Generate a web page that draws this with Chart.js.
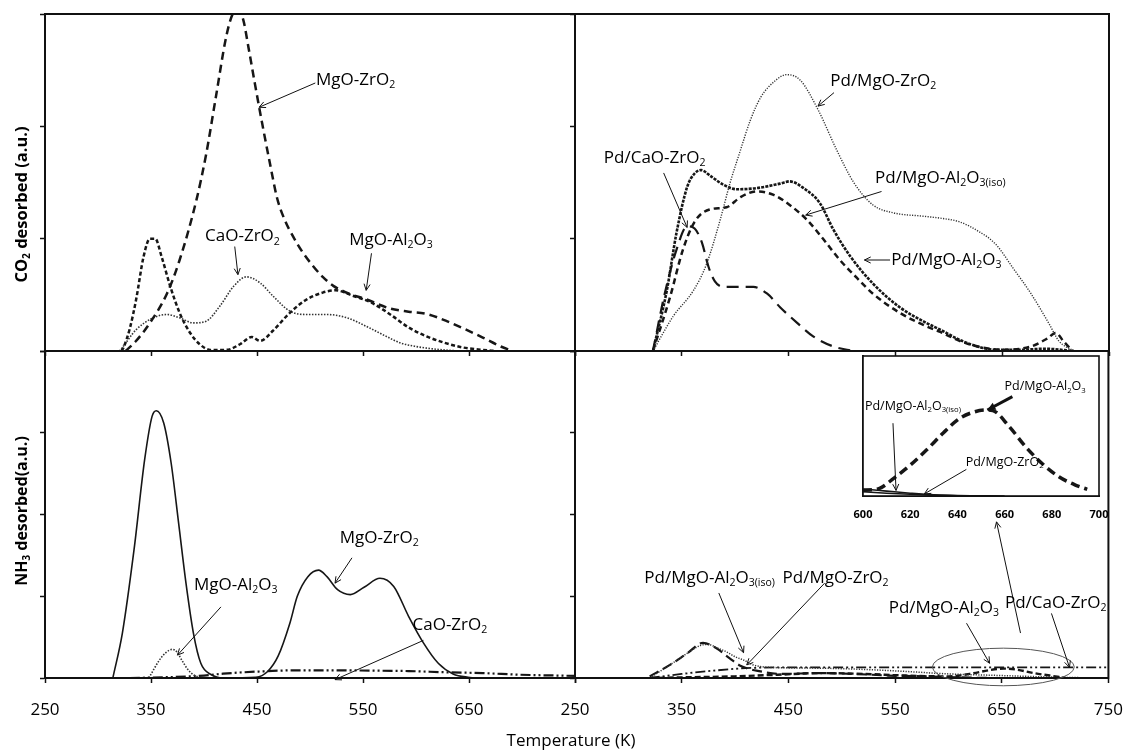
<!DOCTYPE html>
<html lang="en">
<head>
<meta charset="UTF-8">
<title>TPD CO2 / NH3</title>
<script src="https://cdn.jsdelivr.net/npm/chart.js"></script>
<style>
    body { margin: 0; background: #fff; }
    #fig { position: relative; width: 1126px; height: 750px; overflow: hidden; }
    #fig canvas { position: absolute; }
    #xtitle {
        position: absolute; left: 471px; top: 730px; width: 200px;
        text-align: center; font: 17px "Open Sans", sans-serif; line-height: 20px; color: #000;
    }
</style>
</head>
<body>
<div id="fig">
    <canvas id="tl" width="580" height="358" style="left:0;top:0"></canvas>
    <canvas id="tr" width="566" height="358" style="left:560px;top:0"></canvas>
    <canvas id="bl" width="610" height="404" style="left:0;top:346px"></canvas>
    <canvas id="br" width="610" height="404" style="left:530px;top:346px"></canvas>
    <canvas id="inset" width="306" height="180" style="left:820px;top:350px"></canvas>
    <div id="xtitle">Temperature (K)</div>
</div>
<script>
// temperature (K), signal (a.u.)
// CO2 TPD, bare supports
const co2MgOZrO2 = [[326,0],[335,0.08],[349,0.25],[365,0.51],[377,0.81],[393,1.35],[402,1.75],[411,2.25],[421,2.80],[427,3.0],[432,3.04],[437,2.95],[442,2.70],[448,2.38],[455,2.02],[462,1.68],[469,1.36],[476,1.17],[484,1.02],[493,0.88],[503,0.755],[512,0.66],[522,0.58],[537,0.51],[553,0.46],[575,0.38],[593,0.35],[610,0.33],[628,0.27],[645,0.20],[663,0.12],[680,0.04],[691,0]];
const co2MgOAl2O3 = [[322,0],[324,0.03],[330,0.2],[336,0.46],[343,0.84],[349,1.0],[354,1.0],[360,0.84],[368,0.58],[377,0.34],[387,0.16],[396,0.06],[406,0.01],[421,0.01],[434,0.06],[445,0.125],[453,0.09],[465,0.18],[481,0.34],[497,0.46],[512,0.52],[524,0.54],[541,0.49],[558,0.43],[575,0.33],[593,0.21],[610,0.13],[628,0.07],[645,0.03],[663,0.01],[675,0]];
const co2CaOZrO2 = [[320,0],[322,0.02],[336,0.19],[352,0.295],[365,0.325],[377,0.295],[390,0.25],[402,0.265],[415,0.40],[428,0.576],[440,0.66],[453,0.606],[465,0.49],[481,0.355],[497,0.325],[516,0.325],[535,0.295],[553,0.22],[572,0.13],[585,0.073],[600,0.04],[620,0.015],[640,0]];

// CO2 TPD, Pd catalysts
const co2PdMgOZrO2 = [[323,0],[342,0.31],[361,0.54],[373,0.77],[386,1.17],[395,1.49],[405,1.79],[414,2.05],[424,2.26],[438,2.41],[448,2.46],[461,2.41],[478,2.14],[495,1.79],[511,1.50],[529,1.30],[548,1.23],[576,1.20],[594,1.18],[610,1.15],[627,1.07],[644,0.95],[660,0.74],[677,0.51],[694,0.24],[703,0.09],[717,0]];
const co2PdMgOAl2O3 = [[323,0],[336,0.54],[345,1.05],[355,1.46],[362,1.58],[368,1.61],[378,1.55],[389,1.48],[401,1.44],[420,1.45],[442,1.49],[451,1.51],[464,1.45],[479,1.32],[492,1.08],[508,0.84],[529,0.60],[554,0.39],[579,0.25],[592,0.19],[610,0.10],[627,0.04],[644,0.01],[665,0.01],[690,0.02],[717,0]];
const co2PdMgOAl2O3iso = [[323,0],[339,0.48],[351,0.90],[362,1.15],[376,1.26],[392,1.28],[405,1.37],[420,1.42],[436,1.39],[451,1.30],[467,1.17],[483,0.99],[498,0.81],[514,0.65],[529,0.51],[554,0.34],[579,0.22],[592,0.17],[610,0.09],[627,0.04],[650,0.01],[677,0.04],[692,0.11],[700,0.16],[708,0.08],[716,0]];
const co2PdCaOZrO2 = [[323,0],[334,0.51],[345,0.90],[355,1.11],[362,1.09],[369,0.96],[375,0.75],[381,0.62],[389,0.57],[405,0.57],[417,0.57],[430,0.51],[442,0.39],[458,0.25],[473,0.13],[492,0.04],[511,0]];

// NH3 TPD, bare supports
const nh3MgOZrO2 = [[314,0],[323,0.55],[334,1.57],[344,2.67],[351,3.2],[355,3.27],[362,3.12],[369,2.63],[376,1.9],[383,1.16],[390,0.55],[397,0.18],[407,0.04],[418,0],[449,0.01],[460,0.08],[470,0.27],[481,0.67],[488,1.0],[498,1.24],[508,1.32],[516,1.24],[526,1.08],[538,1.02],[551,1.11],[566,1.22],[579,1.12],[593,0.755],[607,0.43],[621,0.18],[635,0.05],[649,0.01],[663,0]];
const nh3MgOAl2O3 = [[348,0],[358,0.22],[364,0.31],[370,0.35],[375,0.31],[379,0.22],[385,0.1],[390,0.04],[397,0]];
const nh3CaOZrO2 = [[330,0],[365,0.01],[400,0.03],[418,0.053],[453,0.08],[488,0.094],[523,0.094],[558,0.09],[593,0.085],[628,0.07],[663,0.06],[698,0.04],[733,0.03],[750,0.025]];

// NH3 TPD, Pd catalysts
const nh3PdMgOZrO2 = [[320,0],[339,0.16],[355,0.30],[368,0.40],[375,0.41],[383,0.37],[392,0.32],[400,0.26],[408,0.22],[417,0.16],[433,0.13],[480,0.12],[530,0.10],[560,0.08],[600,0.05],[650,0.03],[700,0.01],[745,0]];
const nh3PdMgOAl2O3iso = [[320,0.02],[339,0.16],[355,0.30],[370,0.43],[383,0.36],[395,0.24],[405,0.15],[411,0.12],[420,0.09],[444,0.05],[478,0.06],[511,0.05],[544,0.03],[577,0.02],[644,0],[700,0]];
const nh3PdMgOAl2O3 = [[320,0],[360,0.01],[400,0.02],[440,0.04],[480,0.06],[520,0.05],[560,0.03],[600,0.02],[620,0.05],[640,0.10],[652,0.115],[665,0.10],[680,0.06],[695,0.03],[710,0]];
const nh3PdCaOZrO2 = [[320,0],[350,0.05],[380,0.09],[410,0.12],[450,0.13],[750,0.13]];

// inset, 600-700 K
const insetPdMgOAl2O3 = [[600,0.04],[607,0.055],[613,0.126],[620,0.22],[627,0.33],[634,0.45],[641,0.555],[647,0.60],[652,0.614],[655,0.61],[662,0.495],[669,0.35],[676,0.23],[683,0.138],[690,0.078],[695,0.048]];
const insetPdMgOZrO2 = [[600,0.05],[610,0.035],[620,0.02],[630,0.008],[640,0.003],[660,0]];
const insetPdMgOAl2O3iso = [[600,0.03],[610,0.02],[620,0.012],[630,0.006],[645,0]];

const FONT = '"Open Sans", sans-serif';

// text with _{...} subscripts
function richWidth(ctx, text, size, weight) {
    let w = 0;
    text.split(/_\{([^}]*)\}/).forEach((p, i) => {
        if (!p) return;
        ctx.font = `${weight} ${i % 2 ? size * 0.62 : size}px ${FONT}`;
        w += ctx.measureText(p).width;
    });
    return w;
}
function rich(ctx, text, x, y, size, weight) {
    let cx = x;
    ctx.fillStyle = '#000';
    ctx.textAlign = 'left';
    ctx.textBaseline = 'middle';
    text.split(/_\{([^}]*)\}/).forEach((p, i) => {
        if (!p) return;
        const sub = i % 2 === 1;
        ctx.font = `${weight} ${sub ? size * 0.62 : size}px ${FONT}`;
        ctx.fillText(p, cx, sub ? y + size * 0.3 : y);
        cx += ctx.measureText(p).width;
    });
}
function arrow(ctx, x1, y1, x2, y2, w) {
    ctx.strokeStyle = '#111';
    ctx.fillStyle = '#111';
    ctx.lineWidth = w;
    ctx.beginPath(); ctx.moveTo(x1, y1); ctx.lineTo(x2, y2); ctx.stroke();
    const a = Math.atan2(y2 - y1, x2 - x1), h = w > 2 ? 9 : 7;
    ctx.beginPath();
    ctx.moveTo(x2 - h * Math.cos(a - 0.45), y2 - h * Math.sin(a - 0.45));
    ctx.lineTo(x2, y2);
    ctx.lineTo(x2 - h * Math.cos(a + 0.45), y2 - h * Math.sin(a + 0.45));
    if (w > 2) { ctx.closePath(); ctx.fill(); } else { ctx.lineWidth = 1; ctx.stroke(); }
}

const notes = {
    id: 'notes',
    beforeDatasetsDraw(chart, args, o) {
        if (!o.bg) return;
        const a = chart.chartArea;
        chart.ctx.save();
        chart.ctx.fillStyle = '#fff';
        chart.ctx.fillRect(a.left, a.top, a.right - a.left, a.bottom - a.top);
        chart.ctx.restore();
    },
    afterDraw(chart, args, o) {
        const { ctx, chartArea: a, scales: { x, y } } = chart;
        const px = k => x.getPixelForValue(k), py = v => y.getPixelForValue(v);
        ctx.save();
        ctx.strokeStyle = '#111';
        ctx.lineWidth = o.frame || 2;
        ctx.strokeRect(a.left, a.top, a.right - a.left, a.bottom - a.top);
        if (o.ellipse) {
            const [k, v, rk, rv] = o.ellipse;
            ctx.strokeStyle = '#555';
            ctx.lineWidth = 1;
            ctx.beginPath();
            ctx.ellipse(px(k), py(v), px(k + rk) - px(k), py(v) - py(v + rv), 0, 0, 2 * Math.PI);
            ctx.stroke();
        }
        (o.arrows || []).forEach(([k1, v1, k2, v2, w]) => arrow(ctx, px(k1), py(v1), px(k2), py(v2), w || 1));
        (o.labels || []).forEach(([t, k, v]) => rich(ctx, t, px(k), py(v), o.size, o.weight || 'normal'));
        if (o.title) {
            const { text, size, dx, dy } = o.title;
            const w = richWidth(ctx, text, size, 'bold');
            ctx.translate(a.left + dx, (a.top + a.bottom) / 2 + dy);
            ctx.rotate(-Math.PI / 2);
            rich(ctx, text, -w / 2, 0, size, 'bold');
        }
        ctx.restore();
    }
};

function line(data, width, dash, color) {
    return {
        data: data.map(p => ({ x: p[0], y: p[1] })),
        borderColor: color || '#161616',
        borderWidth: width,
        borderDash: dash,
        pointRadius: 0,
        fill: false,
        cubicInterpolationMode: 'monotone'
    };
}

function panel(id, c) {
    return new Chart(document.getElementById(id), {
        type: 'line',
        data: { datasets: c.series },
        options: {
            responsive: false,
            animation: false,
            events: [],
            layout: { padding: { left: 0, top: c.pad[1], right: c.pad[2], bottom: 0 } },
            plugins: { legend: { display: false }, tooltip: { enabled: false }, notes: c.notes },
            scales: {
                x: {
                    type: 'linear', min: c.x[0], max: c.x[1],
                    afterFit: s => { s.height = c.pad[3]; },
                    ticks: {
                        display: !!c.xlabels, stepSize: c.x[2], autoSkip: false, maxRotation: 0,
                        padding: c.xpad || 17, color: '#000',
                        font: c.xfont || { family: FONT, size: 17 },
                        callback: v => (c.hideLast && v === c.x[1]) ? '' : v
                    },
                    grid: { drawOnChartArea: false, drawTicks: c.xticks !== false, tickLength: 5, tickWidth: 1.5, color: '#111' },
                    border: { display: true, color: '#111', width: 2 }
                },
                y: {
                    type: 'linear', min: 0, max: c.ymax,
                    afterFit: s => { s.width = c.pad[0]; },
                    ticks: { display: false, stepSize: 1 },
                    grid: { drawOnChartArea: false, drawTicks: c.yticks !== false, tickLength: 5, tickWidth: 1.5, color: '#111' },
                    border: { display: true, color: '#111', width: 2 }
                }
            }
        },
        plugins: [notes]
    });
}

panel('tl', {
    pad: [45, 14, 5, 7], x: [250, 750, 100], ymax: 3,
    series: [
        line(co2MgOZrO2, 2.5, [8, 5]),
        line(co2MgOAl2O3, 2.5, [4, 2.5]),
        line(co2CaOZrO2, 1.6, [1.5, 1.5], '#333')
    ],
    notes: {
        size: 17,
        title: { text: 'CO_{2} desorbed (a.u.)', size: 16.5, dx: -23, dy: 22 },
        labels: [['MgO-ZrO_{2}', 505.7, 2.41], ['CaO-ZrO_{2}', 401, 1.02], ['MgO-Al_{2}O_{3}', 537, 0.99]],
        arrows: [[505, 2.386, 452, 2.17], [429, 0.93, 432, 0.68], [558, 0.87, 553, 0.54]]
    }
});

panel('tr', {
    pad: [15, 14, 17, 7], x: [250, 750, 100], ymax: 3,
    series: [
        line(co2PdMgOZrO2, 1.4, [1.2, 1.4], '#333'),
        line(co2PdMgOAl2O3, 2.6, [3, 1.2]),
        line(co2PdMgOAl2O3iso, 2.5, [6, 4]),
        line(co2PdCaOZrO2, 2.2, [12, 7])
    ],
    notes: {
        size: 17,
        labels: [['Pd/MgO-ZrO_{2}', 489, 2.40], ['Pd/CaO-ZrO_{2}', 277, 1.72],
                 ['Pd/MgO-Al_{2}O_{3}_{(iso)}', 531, 1.54], ['Pd/MgO-Al_{2}O_{3}', 546, 0.81]],
        arrows: [[492.5, 2.30, 477.5, 2.18], [333, 1.585, 355, 1.10], [537, 1.42, 466, 1.21], [545, 0.81, 521, 0.81]]
    }
});

panel('bl', {
    pad: [45, 5, 35, 72], x: [250, 750, 100], ymax: 4, xlabels: true, hideLast: true,
    series: [
        line(nh3MgOZrO2, 1.6, []),
        line(nh3MgOAl2O3, 1.6, [1.5, 1.5], '#333'),
        line(nh3CaOZrO2, 2.2, [10, 3, 2, 3, 2, 3])
    ],
    notes: {
        size: 17,
        title: { text: 'NH_{3} desorbed(a.u.)', size: 16, dx: -23, dy: -3.5 },
        labels: [['MgO-ZrO_{2}', 528, 1.71], ['MgO-Al_{2}O_{3}', 390.6, 1.14], ['CaO-ZrO_{2}', 596.7, 0.65]],
        arrows: [[539.6, 1.47, 523.6, 1.16], [416, 0.87, 375, 0.28], [607, 0.46, 523.6, -0.02]]
    }
});

panel('br', {
    pad: [45, 5, 31, 72], x: [250, 750, 100], ymax: 4, xlabels: true,
    series: [
        line(nh3PdMgOZrO2, 1.5, [1.2, 1.4], '#333'),
        line(nh3PdMgOAl2O3iso, 2.2, [10, 5]),
        line(nh3PdMgOAl2O3, 2.4, [6, 3]),
        line(nh3PdCaOZrO2, 1.8, [10, 3, 2, 3, 2, 3])
    ],
    notes: {
        size: 17,
        ellipse: [651.5, 0.135, 66.5, 0.23],
        labels: [['Pd/MgO-Al_{2}O_{3}_{(iso)}', 315, 1.22], ['Pd/MgO-ZrO_{2}', 444.6, 1.22],
                 ['Pd/MgO-Al_{2}O_{3}', 544, 0.86], ['Pd/CaO-ZrO_{2}', 653, 0.92]],
        arrows: [[384.8, 1.04, 408, 0.31], [484, 1.16, 411, 0.16], [617, 0.67, 638.6, 0.18],
                 [696.6, 0.79, 713.5, 0.13], [667.6, 0.55, 645.1, 1.91]]
    }
});

panel('inset', {
    pad: [43, 6, 27, 34], x: [600, 700, 20], ymax: 1, xlabels: true, xticks: false, yticks: false,
    xpad: 12, xfont: { family: FONT, size: 11, weight: 'bold' },
    series: [
        line(insetPdMgOAl2O3, 3.5, [9, 5]),
        line(insetPdMgOZrO2, 1.6, []),
        line(insetPdMgOAl2O3iso, 1.6, [])
    ],
    notes: {
        bg: true, frame: 1.6, size: 12.5,
        labels: [['Pd/MgO-Al_{2}O_{3}', 660, 0.78], ['Pd/MgO-Al_{2}O_{3}_{(iso)}', 600.8, 0.64], ['Pd/MgO-ZrO_{2}', 643.5, 0.24]],
        arrows: [[663.3, 0.71, 652.7, 0.614, 3], [612.7, 0.52, 614, 0.04], [643.8, 0.19, 626, 0.015]]
    }
});
</script>
</body>
</html>
